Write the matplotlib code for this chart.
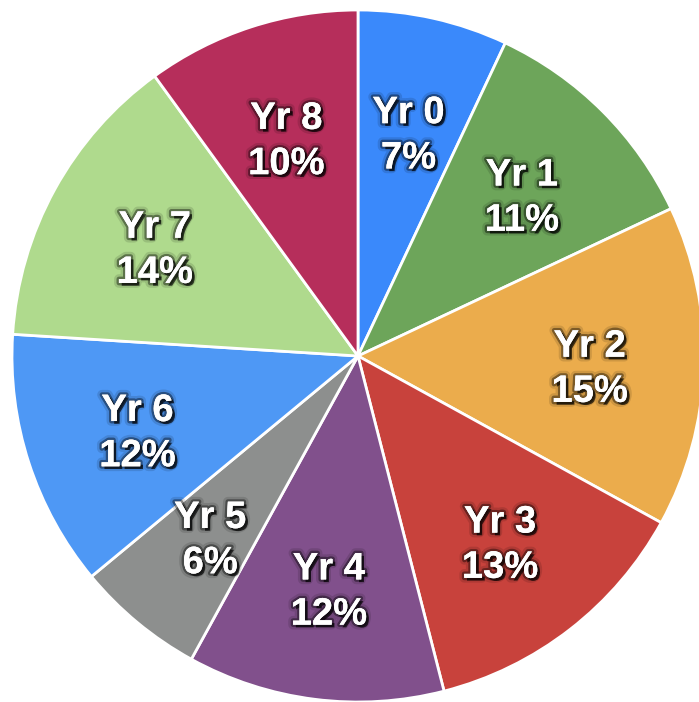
import matplotlib
matplotlib.use("Agg")
import matplotlib.pyplot as plt
import matplotlib.patheffects as pe

labels = ["Yr 0", "Yr 1", "Yr 2", "Yr 3", "Yr 4", "Yr 5", "Yr 6", "Yr 7", "Yr 8"]
values = [7, 11, 15, 13, 12, 6, 12, 14, 10]
colors = ["#3a89fb", "#6da55a", "#ebac4c", "#c8423c", "#81508c",
          "#8d8f8e", "#4e98f5", "#afda8d", "#b62e5b"]

fig = plt.figure(figsize=(6.99, 7.02), dpi=100)
ax = fig.add_axes([0, 0, 1, 1])

R = 346
wedges, texts = ax.pie(
    values, colors=colors, startangle=90, counterclock=False, radius=R,
    labels=[f"{l}\n{v}%" for l, v in zip(labels, values)],
    labeldistance=0.67,
    wedgeprops=dict(edgecolor="white", linewidth=2),
    textprops=dict(color="white", fontsize=27.5, fontweight="bold",
                   family=["Liberation Sans", "DejaVu Sans"],
                   ha="center", va="center", linespacing=1.33),
)
# soft dark drop shadow behind the white labels
shadow = [
    pe.withStroke(linewidth=7, foreground=(0, 0, 0, 0.12)),
    pe.SimplePatchShadow(offset=(2, -2), shadow_rgbFace="black", alpha=0.7),
    pe.withStroke(linewidth=3.5, foreground=(0, 0, 0, 0.4)),
    pe.Normal(),
]
for t in texts:
    x, y = t.get_position()
    t.set_position((x, y - 6))  # labels sit a bit low in the original
    t.set_path_effects(shadow)

ax.set_xlim(-358, 341)
ax.set_ylim(-346, 356)
ax.set_aspect("equal")
ax.axis("off")

fig.savefig("out.png", dpi=100, facecolor="white")
